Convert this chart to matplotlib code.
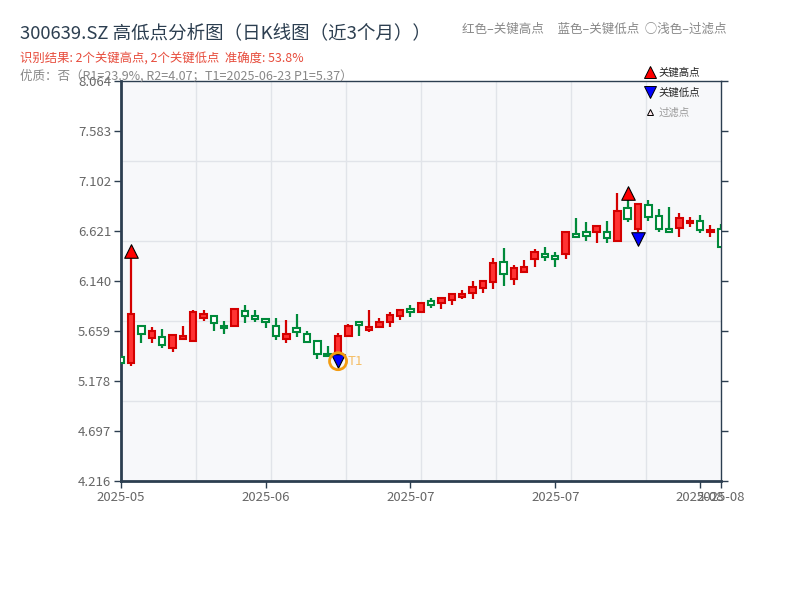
import numpy as np
import matplotlib
matplotlib.use('Agg')
import matplotlib.pyplot as plt
from matplotlib.lines import Line2D

plt.rcParams['font.family'] = ['Noto Sans CJK SC', 'DejaVu Sans']

# daily candles, red = up, green = down
opens = [5.41, 5.35, 5.71, 5.59, 5.60, 5.50, 5.585, 5.56, 5.787, 5.803,
         5.704, 5.707, 5.854, 5.800, 5.772, 5.710, 5.585, 5.685, 5.630, 5.560,
         5.435, 5.428, 5.614, 5.743, 5.672, 5.695, 5.743, 5.803, 5.868, 5.845,
         5.948, 5.925, 5.954, 5.989, 6.022, 6.070, 6.127, 6.320, 6.162, 6.224,
         6.349, 6.403, 6.383, 6.400, 6.592, 6.614, 6.609, 6.614, 6.528, 6.839,
         6.643, 6.871, 6.765, 6.637, 6.647, 6.695, 6.720, 6.609, 6.637]
closes = [5.35, 5.823, 5.627, 5.659, 5.524, 5.623, 5.611, 5.839, 5.823, 5.736,
          5.685, 5.868, 5.806, 5.771, 5.743, 5.611, 5.627, 5.652, 5.550, 5.438,
          5.416, 5.611, 5.707, 5.714, 5.695, 5.743, 5.810, 5.858, 5.845, 5.929,
          5.906, 5.976, 6.015, 6.015, 6.079, 6.137, 6.310, 6.204, 6.262, 6.272,
          6.416, 6.368, 6.352, 6.609, 6.566, 6.576, 6.669, 6.551, 6.813, 6.733,
          6.881, 6.752, 6.637, 6.609, 6.743, 6.714, 6.631, 6.631, 6.470]
highs = [5.41, 6.371, 5.71, 5.695, 5.675, 5.623, 5.707, 5.858, 5.858, 5.803,
         5.752, 5.877, 5.906, 5.858, 5.772, 5.781, 5.765, 5.823, 5.659, 5.572,
         5.515, 5.643, 5.726, 5.743, 5.861, 5.781, 5.842, 5.858, 5.909, 5.938,
         5.974, 5.986, 6.025, 6.053, 6.140, 6.150, 6.358, 6.455, 6.294, 6.339,
         6.445, 6.464, 6.416, 6.609, 6.743, 6.711, 6.682, 6.717, 6.984, 6.935,
         6.881, 6.919, 6.830, 6.849, 6.791, 6.759, 6.775, 6.679, 6.688]
lows = [5.35, 5.325, 5.541, 5.541, 5.493, 5.460, 5.575, 5.560, 5.758, 5.662,
        5.633, 5.700, 5.733, 5.748, 5.691, 5.572, 5.541, 5.604, 5.541, 5.387,
        5.406, 5.41, 5.604, 5.614, 5.652, 5.695, 5.695, 5.762, 5.797, 5.829,
        5.877, 5.874, 5.912, 5.964, 5.967, 6.027, 6.066, 6.095, 6.099, 6.224,
        6.272, 6.335, 6.277, 6.355, 6.556, 6.528, 6.509, 6.509, 6.512, 6.705,
        6.61, 6.720, 6.611, 6.599, 6.560, 6.662, 6.599, 6.566, 6.470]

# key points: index and marker price
key_high_idx = [1, 49]
key_high_val = [6.43, 6.99]
key_low_idx = [21, 50]
key_low_val = [5.37, 6.544]
t1_idx = 21
t1_val = 5.37

tick_idx = [0, 14, 28, 42, 56, 58]
tick_labels = ['2025-05', '2025-06', '2025-07', '2025-07', '2025-08', '2025-08']

y_min, y_max = 4.216, 8.064

fig = plt.figure(figsize=(8, 6), dpi=100)
ax = fig.add_axes([0.151, 0.198, 0.75, 0.667])
ax.set_facecolor('#f7f8fa')

x = np.arange(len(opens))
o = np.array(opens)
c = np.array(closes)
up = c >= o
red_edge, red_face = '#d40000', '#ff3333'
green = '#008a3a'

for i in x:
    col = red_edge if up[i] else green
    ax.vlines(i, lows[i], highs[i], color=col, linewidth=1.6, zorder=2)
    bottom = min(o[i], c[i])
    h = max(abs(c[i] - o[i]), 0.012)
    ax.bar(i, h, bottom=bottom, width=0.62,
           facecolor=red_face if up[i] else 'white',
           edgecolor=col, linewidth=1.5, zorder=3)

ax.scatter(key_high_idx, key_high_val, marker='^', s=95, color='#ff0000',
           edgecolors='black', linewidths=0.8, zorder=5)
ax.scatter(key_low_idx, key_low_val, marker='v', s=95, color='#0000ff',
           edgecolors='black', linewidths=0.8, zorder=5)
ax.scatter([t1_idx], [t1_val], marker='o', s=150, facecolors='none',
           edgecolors='#f39c12', linewidths=2, zorder=6)
ax.text(t1_idx + 0.9, t1_val, 'T1', color='#f5b041', alpha=0.8, fontsize=9.5,
        va='center', ha='left', zorder=6)

ax.set_xlim(0, 58)
ax.set_ylim(y_min, y_max)

yt = np.linspace(y_min, y_max, 9)
ax.set_yticks(yt)
ax.set_yticklabels(['%.3f' % v for v in yt])
ax.set_xticks(tick_idx)
ax.set_xticklabels(tick_labels)

# grid on its own divisions
ax.set_xticks(np.linspace(0, 58, 9), minor=True)
ax.set_yticks(np.linspace(y_min, y_max, 6), minor=True)
ax.grid(True, which='minor', color='#e1e4e9', linewidth=1)
ax.grid(False, which='major')
ax.set_axisbelow(True)

ax.tick_params(axis='both', which='minor', length=0)
ax.tick_params(axis='y', which='major', left=True, right=True, length=5,
               width=1, color='#2c3e50', labelsize=9.5, labelcolor='#666666', pad=2)
ax.tick_params(axis='x', which='major', length=5, width=1, color='#2c3e50',
               labelsize=9.5, labelcolor='#666666', pad=2)

for side in ['left', 'bottom']:
    ax.spines[side].set_color('#2c3e50')
    ax.spines[side].set_linewidth(2)
for side in ['top', 'right']:
    ax.spines[side].set_color('#2c3e50')
    ax.spines[side].set_linewidth(1)

fig.text(0.025, 0.945, '300639.SZ 高低点分析图（日K线图（近3个月））', fontsize=13.3,
         color='#2c3e50', va='center')
fig.text(0.025, 0.902, '识别结果: 2个关键高点, 2个关键低点  准确度: 53.8%', fontsize=8.9,
         color='#e74c3c', va='center')
fig.text(0.025, 0.873, '优质：否（R1=23.9%, R2=4.07；T1=2025-06-23 P1=5.37）', fontsize=9,
         color='#888888', va='center')
fig.text(0.578, 0.952, '红色–关键高点     蓝色–关键低点  ○浅色–过滤点', fontsize=9,
         color='#888888', va='center')

handles = [
    Line2D([], [], linestyle='none', marker='^', markersize=8, color='#ff0000',
           markeredgecolor='black', markeredgewidth=0.7),
    Line2D([], [], linestyle='none', marker='v', markersize=8, color='#0000ff',
           markeredgecolor='black', markeredgewidth=0.7),
    Line2D([], [], linestyle='none', marker='^', markersize=5, color='#ffe8ea',
           markeredgecolor='black', markeredgewidth=0.7),
]
leg = fig.legend(handles, ['关键高点', '关键低点', '过滤点'], loc='upper left',
                 bbox_to_anchor=(0.806, 0.888), frameon=False, fontsize=7.5,
                 handlelength=1.0, handletextpad=0.35, labelspacing=0.95,
                 borderaxespad=0, borderpad=0)
for t, col in zip(leg.get_texts(), ['#222222', '#222222', '#999999']):
    t.set_color(col)

fig.savefig('out.png', dpi=100)
